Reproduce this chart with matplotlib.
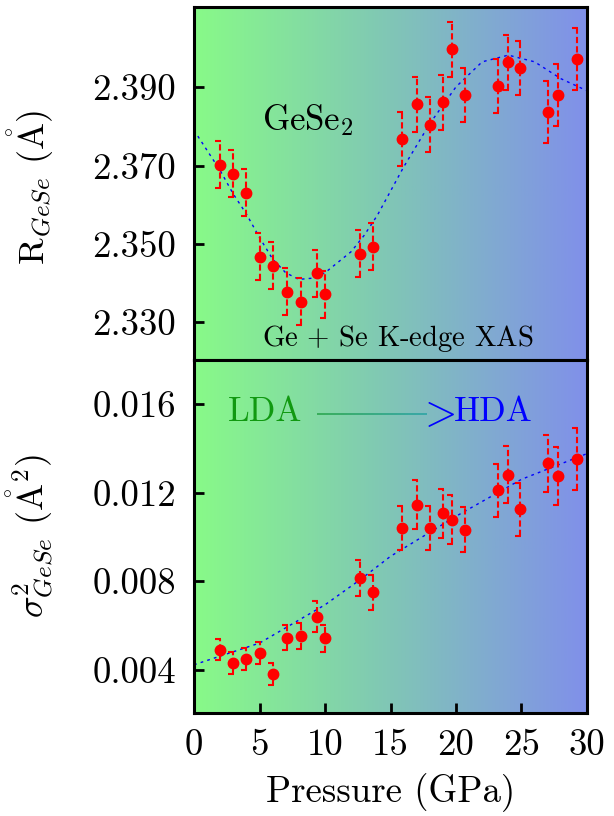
import numpy as np
import matplotlib
matplotlib.use('Agg')
import matplotlib.pyplot as plt
from matplotlib.collections import LineCollection
from matplotlib.colors import LinearSegmentedColormap
from matplotlib.path import Path

plt.rcParams['font.family'] = 'serif'
plt.rcParams['font.serif'] = ['cmr10']
plt.rcParams['mathtext.fontset'] = 'cm'
plt.rcParams['axes.formatter.use_mathtext'] = True
plt.rcParams['axes.unicode_minus'] = False

# pressure points (GPa), shared by both panels
pressure = [2.0, 3.0, 4.0, 5.0, 6.0, 7.1, 8.2, 9.4, 10.0, 12.7, 13.7, 15.9,
            17.0, 18.0, 19.0, 19.7, 20.7, 23.2, 24.0, 24.9, 27.0, 27.8, 29.2]

# Ge-Se bond length and error
r_gese = [2.3702, 2.3679, 2.3630, 2.3467, 2.3444, 2.3378, 2.3352, 2.3425,
          2.3371, 2.3474, 2.3492, 2.3768, 2.3856, 2.3804, 2.3862, 2.3997,
          2.3880, 2.3903, 2.3964, 2.3949, 2.3837, 2.3880, 2.3972]
r_err = [0.006] * 11 + [0.007] * 9 + [0.008] * 3

# Debye-Waller factor and error
sig2 = [0.00491, 0.00430, 0.00450, 0.00476, 0.00380, 0.00546, 0.00553,
        0.00641, 0.00542, 0.00815, 0.00750, 0.01040, 0.01146, 0.01042,
        0.01107, 0.01078, 0.01034, 0.01211, 0.01282, 0.01125, 0.01333,
        0.01277, 0.01351]
sig2_err = [0.00048, 0.0005, 0.0005, 0.0005, 0.0005, 0.00057, 0.00057,
            0.0007, 0.0006, 0.0008, 0.0008, 0.001, 0.0011, 0.001, 0.0011,
            0.0011, 0.001, 0.0012, 0.0013, 0.0012, 0.0013, 0.0013, 0.0014]

# guide-to-the-eye curves
fit_p = [0, 2, 3, 4, 5, 6, 7, 8, 9, 10, 12, 13, 14, 16, 18, 20, 22, 24, 26, 28, 30]
fit_r = [2.3790, 2.3687, 2.3627, 2.3576, 2.3516, 2.3461, 2.3426, 2.3409,
         2.3412, 2.3426, 2.3480, 2.3522, 2.3573, 2.3696, 2.3807, 2.3901,
         2.3965, 2.3982, 2.3965, 2.3922, 2.3891]
fit_p2 = [0, 5, 10, 12.7, 15, 20, 25, 30]
fit_s2 = [0.00423, 0.00521, 0.00694, 0.00808, 0.00913, 0.01094, 0.01261, 0.01377]

r_ticks = [2.330, 2.350, 2.370, 2.390]
s_ticks = [0.004, 0.008, 0.012, 0.016]
p_ticks = [0, 5, 10, 15, 20, 25, 30]

bg = LinearSegmentedColormap.from_list('bg', ['#88fa88', '#80c6b6', '#8090ea'])

fig = plt.figure(figsize=(6.14, 8.16), dpi=100)
ax1 = fig.add_axes([0.316, 0.5588, 0.640, 0.4326])
ax2 = fig.add_axes([0.316, 0.1262, 0.640, 0.4326])

grad = np.linspace(0, 1, 256).reshape(1, -1)
for ax in (ax1, ax2):
    ax.imshow(grad, cmap=bg, aspect='auto', extent=[0, 1, 0, 1],
              transform=ax.transAxes, zorder=0)
    for s in ax.spines.values():
        s.set_linewidth(2.2)
        s.set_zorder(5)
    ax.set_xlim(0, 30)
    ax.tick_params(axis='y', direction='in', length=7, width=2, pad=13,
                   labelsize=26.5, right=False)
    ax.tick_params(axis='x', direction='in', length=7, width=2, pad=11,
                   labelsize=26.5, top=False)

# caps that stick out to the left only
left_cap = Path([(-1.0, 0.0), (0.15, 0.0)])


def draw_err(ax, y, e):
    _, caps, bars = ax.errorbar(pressure, y, yerr=e, fmt='o', color='red',
                                ms=7.5, elinewidth=1.5, capsize=4,
                                capthick=1.5, zorder=3)
    bars[0].set_linestyle((0, (3, 1.5)))
    for c in caps:
        c.set_marker(left_cap)
        c.set_markersize(7)


angstrom = r'\mathring{\mathrm{A}}'

# top panel: bond length
ax1.plot(fit_p, fit_r, color='blue', lw=1, ls=(0, (2, 3)), zorder=2)
draw_err(ax1, r_gese, r_err)
ax1.set_ylim(2.3203, 2.4105)
ax1.set_yticks(r_ticks)
ax1.set_yticklabels(['%.3f' % v for v in r_ticks])
ax1.set_xticks([])
ax1.set_ylabel(r'R$_{GeSe}$ $(' + angstrom + ')$', fontsize=26)
ax1.yaxis.set_label_coords(-0.352, 0.49)
ax1.text(0.173, 0.68, r'GeSe$_2$', transform=ax1.transAxes, fontsize=25,
         va='center', ha='left')
ax1.text(0.173, 0.062, r'Ge $+$ Se K-edge XAS', transform=ax1.transAxes,
         fontsize=20.7, va='center', ha='left')

# bottom panel: sigma^2
ax2.plot(fit_p2, fit_s2, color='blue', lw=1, ls=(0, (2, 3)), zorder=2)
draw_err(ax2, sig2, sig2_err)
ax2.set_ylim(0.00205, 0.0180)
ax2.set_yticks(s_ticks)
ax2.set_yticklabels(['%.3f' % v for v in s_ticks])
ax2.set_xticks(p_ticks)
ax2.set_xticklabels([str(v) for v in p_ticks])
ax2.set_xlabel('Pressure (GPa)', fontsize=26.5, labelpad=8)
ax2.set_ylabel(r'$\sigma^2_{GeSe}$ $(' + angstrom + '^2)$', fontsize=26)
ax2.yaxis.set_label_coords(-0.352, 0.5)

# LDA ---> HDA arrow text
ax2.text(0.087, 0.853, 'LDA', transform=ax2.transAxes, fontsize=25,
         color='#119911', va='center', ha='left')
xs = np.linspace(0.313, 0.594, 30)
segs = [[(xs[i], 0.847), (xs[i + 1], 0.847)] for i in range(len(xs) - 1)]
arrow_cmap = LinearSegmentedColormap.from_list('arr', ['#33aa55', '#33a6a6'])
lc = LineCollection(segs, colors=arrow_cmap(np.linspace(0, 1, len(segs))),
                    linewidths=1.3, transform=ax2.transAxes, zorder=4)
ax2.add_collection(lc)
ax2.text(0.567, 0.846, r'$>$', transform=ax2.transAxes, fontsize=30,
         color='#0000ff', va='center', ha='left')
ax2.text(0.660, 0.853, 'HDA', transform=ax2.transAxes, fontsize=25,
         color='#0000ff', va='center', ha='left')

fig.savefig('out.png', dpi=100)
